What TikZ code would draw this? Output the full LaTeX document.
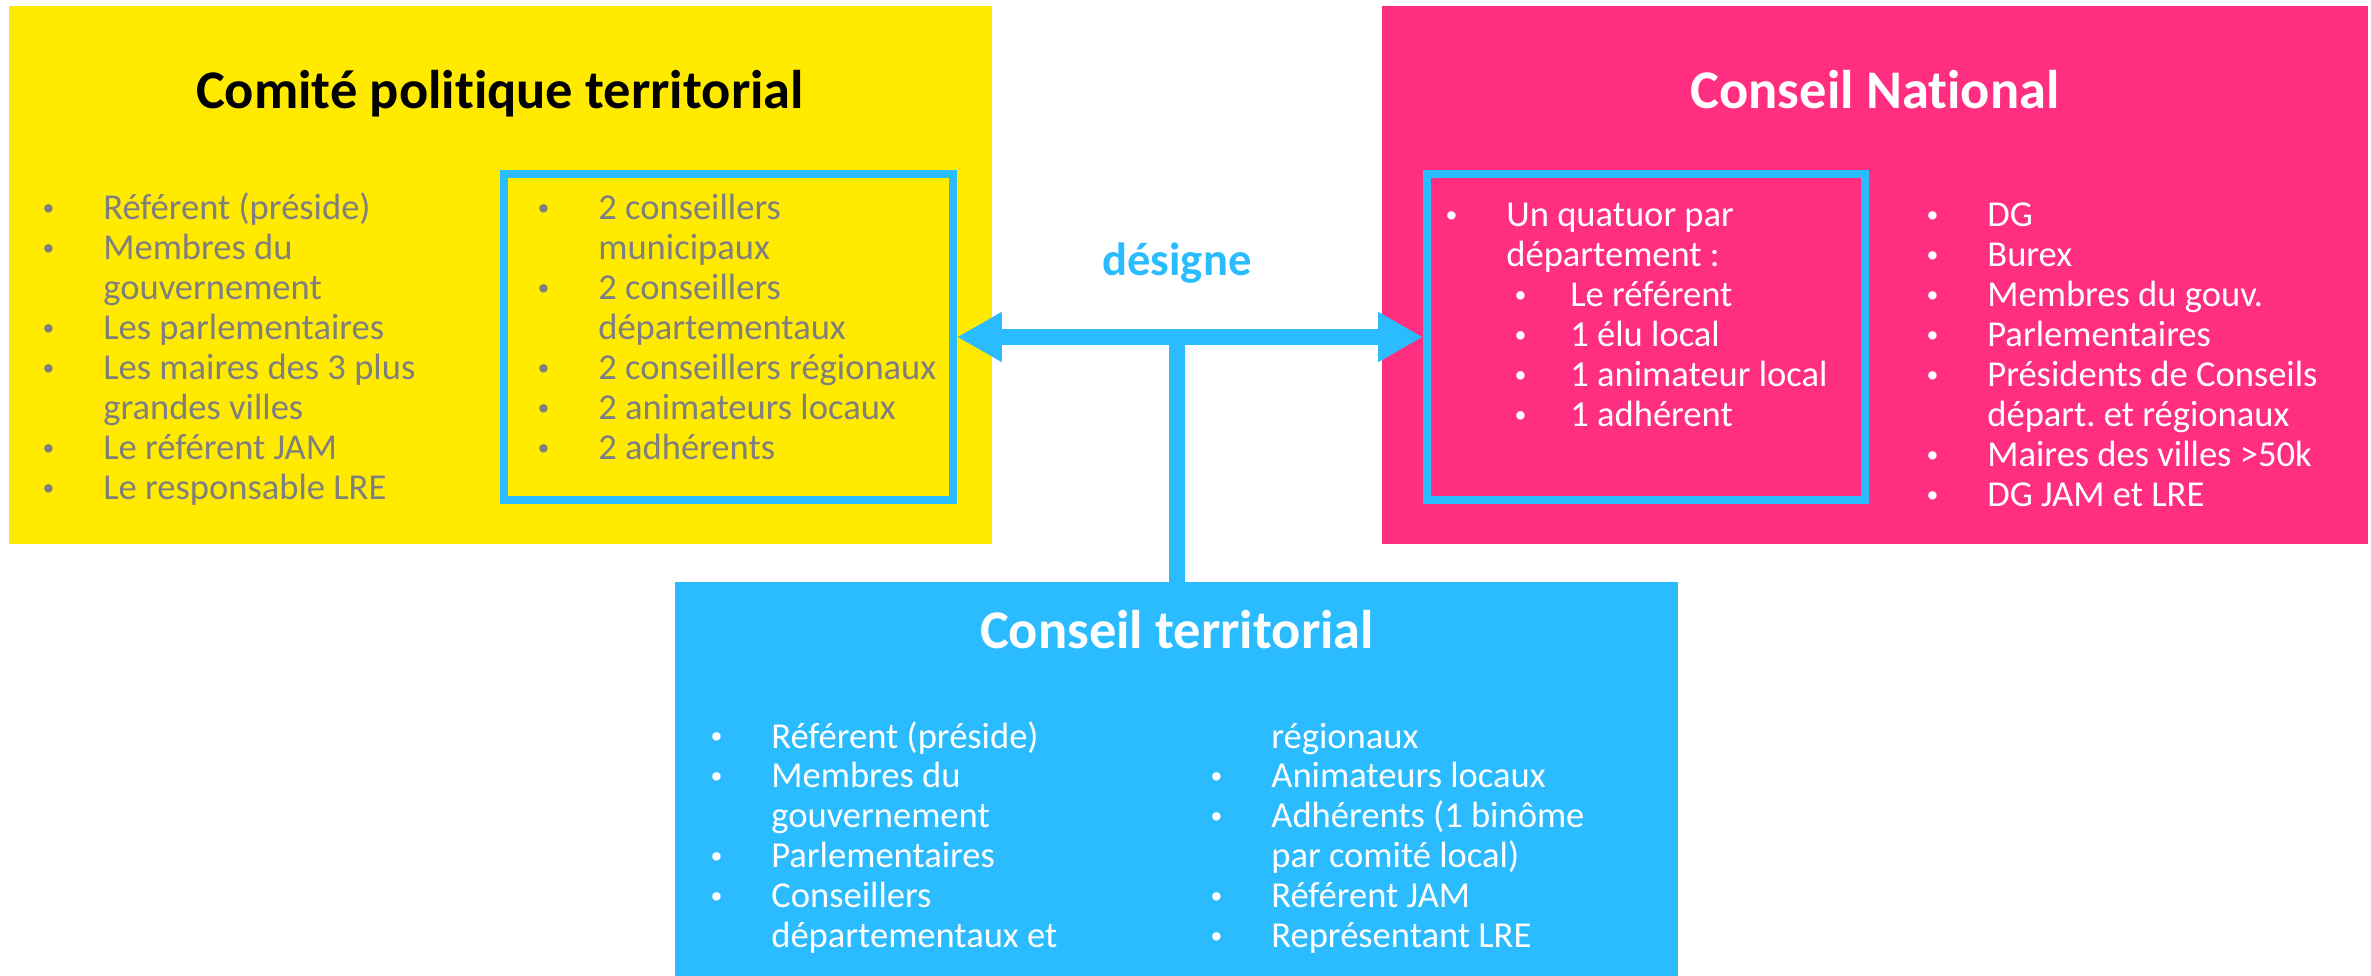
\documentclass[tikz,border=0pt]{standalone}
\usepackage{fontspec}
\setmainfont{Carlito}[Ligatures=NoCommon]
\usetikzlibrary{arrows.meta}

\definecolor{cptyellow}{RGB}{255,234,0}
\definecolor{cnpink}{RGB}{255,46,128}
\definecolor{ctblue}{RGB}{43,187,255}
\definecolor{itemgrey}{RGB}{127,127,127}

\newcommand\titlefont{\fontsize{31}{36}\selectfont\bfseries}
\newcommand\listfont{\fontsize{20.8}{22.76}\selectfont}
\newcommand\bul{\raisebox{0.12em}{\scalebox{0.65}{\textbullet}}}
\newcommand\itm{\llap{\bul\hspace{0.98cm}}}
\newcommand\subitm{\hspace*{1.28cm}\llap{\bul\hspace{0.88cm}}}
\newcommand\blist[1]{\begin{tabular}[t]{@{}l@{}}#1\end{tabular}}

\begin{document}
\begin{tikzpicture}[x=0.02cm, y=-0.02cm,
    box/.style={inner sep=0pt, outer sep=0pt},
    frame/.style={draw=ctblue, line width=0.16cm, inner sep=0pt, minimum height=6.52cm},
    title/.style={anchor=base, font=\titlefont},
    items/.style={anchor=base west, inner sep=0pt, font=\listfont},
    link/.style={draw=ctblue, line width=0.32cm}]
  \useasboundingbox[fill=white] (0,0) rectangle (2371,976);

  \node[box, fill=cptyellow, minimum width=19.66cm, minimum height=10.76cm] (cpt) at (500.5,275) {};
  \node[box, fill=cnpink, minimum width=19.72cm, minimum height=10.76cm] (cn) at (1875,275) {};
  \node[box, fill=ctblue, minimum width=20.06cm, minimum height=7.88cm] (ct) at (1176.5,779) {};

  \node[frame, minimum width=8.98cm] (cptframe) at (728.5,337) {};
  \node[frame, minimum width=8.76cm] (cnframe) at (1646,337) {};

  \node[title] (cpttitle) at (500,109) {Comité politique territorial};
  \node[title, text=white] (cntitle) at (1875,109) {Conseil National};
  \node[title, text=white] (cttitle) at (1177,648) {Conseil territorial};

  \node[items, text=itemgrey] (cptleft) at (103,220) {\blist{
    \itm Référent (préside)\\ \itm Membres du\\ gouvernement\\
    \itm Les parlementaires\\ \itm Les maires des 3 plus\\ grandes villes\\
    \itm Le référent JAM\\ \itm Le responsable LRE}};
  \node[items, text=itemgrey] (cptright) at (598,220) {\blist{
    \itm 2 conseillers\\ municipaux\\ \itm 2 conseillers\\ départementaux\\
    \itm 2 conseillers régionaux\\ \itm 2 animateurs locaux\\ \itm 2 adhérents}};

  \node[items, text=white] (cnleft) at (1506,227) {\blist{
    \itm Un quatuor par\\ département~:\\ \subitm Le référent\\
    \subitm 1 élu local\\ \subitm 1 animateur local\\ \subitm 1 adhérent}};
  \node[items, text=white] (cnright) at (1987,227) {\blist{
    \itm DG\\ \itm Burex\\ \itm Membres du gouv.\\ \itm Parlementaires\\
    \itm Présidents de Conseils\\ départ.\ et régionaux\\
    \itm Maires des villes >50k\\ \itm DG JAM et LRE}};

  \node[items, text=white] (ctleft) at (771,748) {\blist{
    \itm Référent (préside)\\ \itm Membres du\\ gouvernement\\
    \itm Parlementaires\\ \itm Conseillers\\ départementaux et}};
  \node[items, text=white] (ctright) at (1271,748) {\blist{
    régionaux\\ \itm Animateurs locaux\\ \itm Adhérents (1 binôme\\
    par comité local)\\ \itm Référent JAM\\ \itm Représentant LRE}};

  \node[anchor=base, text=ctblue, font=\fontsize{26.5}{30}\selectfont\bfseries] (designe) at (1177,276) {désigne};

  \draw[link, {Triangle[length=0.9cm,width=0.94cm]}-{Triangle[length=0.9cm,width=0.94cm]}]
    (cptframe.east) -- (cnframe.west);
  \draw[link] (ct.north) -- (ct.north |- cptframe.east);
\end{tikzpicture}
\end{document}
